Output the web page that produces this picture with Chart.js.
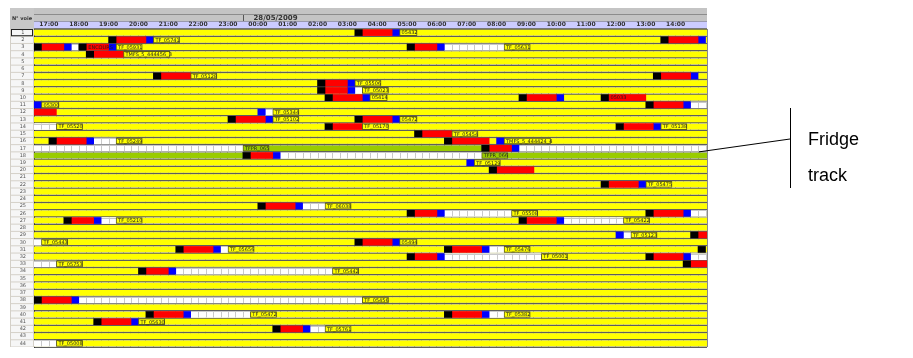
<!DOCTYPE html>
<html>
<head>
<meta charset="utf-8">
<script src="https://cdn.jsdelivr.net/npm/chart.js@4/dist/chart.umd.min.js"></script>
<style>
  html, body { margin: 0; padding: 0; background: #fff; }
  #wrap { position: relative; width: 913px; height: 358px; }
</style>
</head>
<body>
<div id="wrap"><canvas id="gantt" width="913" height="358"></canvas></div>
<script>
// track numbers (N° voie)
const rows = ['1','2','3','4','5','6','7','8','9','10','11','12','13','14','15','16','17','18','19','20','21','22',
  '23','24','25','26','27','28','29','30','31','32','33','34','35','36','37','38','39','40','41','42','43','44'];
const hourLabels = ['17:00','18:00','19:00','20:00','21:00','22:00','23:00','00:00','01:00','02:00','03:00',
  '04:00','05:00','06:00','07:00','08:00','09:00','10:00','11:00','12:00','13:00','14:00'];
const dateLabel = '28/05/2009';
const fridgeRows = ['17', '18'];

// [track, from, to, text]
const blackSegs = [
  [1,'03:45','04:00'], [2,'19:30','19:45'], [2,'14:00','14:15'],
  [3,'17:00','17:15'], [3,'18:30','18:45'], [3,'05:30','05:45'],
  [4,'18:45','19:00'], [7,'21:00','21:15'], [7,'13:45','14:00'],
  [8,'02:30','02:45'], [9,'02:30','02:45'],
  [10,'02:45','03:00'], [10,'09:15','09:30'], [10,'12:00','12:15'],
  [11,'13:30','13:45'], [13,'23:30','23:45'], [13,'03:45','04:00'],
  [14,'02:45','03:00'], [14,'12:30','12:45'], [15,'05:45','06:00'],
  [16,'17:30','17:45'], [16,'06:45','07:00'], [17,'08:00','08:15'], [18,'00:00','00:15'],
  [20,'08:15','08:30'], [22,'12:00','12:15'], [25,'00:30','00:45'],
  [26,'05:30','05:45'], [26,'13:30','13:45'], [27,'18:00','18:15'], [27,'09:15','09:30'],
  [29,'15:00','15:15'], [30,'03:45','04:00'],
  [31,'21:45','22:00'], [31,'06:45','07:00'], [31,'15:15','15:30'],
  [32,'05:30','05:45'], [32,'13:30','13:45'], [33,'14:45','15:00'],
  [34,'20:30','20:45'], [38,'17:00','17:15'], [40,'20:45','21:00'], [40,'06:45','07:00'],
  [41,'19:00','19:15'], [42,'01:00','01:15']
];
const redSegs = [
  [1,'04:00','05:00'], [2,'19:45','20:45'], [2,'14:15','15:15'],
  [3,'17:15','18:00'], [3,'18:45','19:30','ENCOURS'], [3,'05:45','06:30'],
  [4,'19:00','20:00'], [7,'21:15','22:15'], [7,'14:00','15:00'],
  [8,'02:45','03:30'], [9,'02:45','03:30'],
  [10,'03:00','04:00'], [10,'09:30','10:30'], [10,'12:15','13:30','05033'],
  [11,'13:45','14:45'], [12,'17:00','17:45'], [13,'23:45','00:45'], [13,'04:00','05:00'],
  [14,'03:00','04:00'], [14,'12:45','13:45'], [15,'06:00','07:00'],
  [16,'17:45','18:45'], [16,'07:00','08:15'], [17,'08:15','09:00'], [18,'00:15','01:00'],
  [20,'08:30','09:45'], [22,'12:15','13:15'], [25,'00:45','01:45'],
  [26,'05:45','06:30'], [26,'13:45','14:45'], [27,'18:15','19:00'], [27,'09:30','10:30'],
  [29,'15:15','end'], [30,'04:00','05:00'], [31,'22:00','23:00'], [31,'07:00','08:00'],
  [32,'05:45','06:30'], [32,'13:45','14:45'], [33,'15:00','end'],
  [34,'20:45','21:30'], [38,'17:15','18:15'], [40,'21:00','22:00'], [40,'07:00','08:00'],
  [41,'19:15','20:15'], [42,'01:15','02:00']
];
const blueSegs = [
  [1,'05:00','05:15'], [2,'20:45','21:00'], [2,'15:15','15:30'],
  [3,'18:00','18:15'], [3,'19:30','19:45'], [3,'06:30','06:45'],
  [7,'15:00','15:15'], [8,'03:30','03:45'], [9,'03:30','03:45'],
  [10,'04:00','04:15'], [10,'10:30','10:45'], [11,'17:00','17:15'], [11,'14:45','15:00'],
  [12,'00:30','00:45'], [13,'00:45','01:00'], [13,'05:00','05:15'], [14,'13:45','14:00'],
  [16,'18:45','19:00'], [16,'08:30','08:45'], [17,'09:00','09:15'], [18,'01:00','01:15'],
  [19,'07:30','07:45'], [22,'13:15','13:30'], [25,'01:45','02:00'],
  [26,'06:30','06:45'], [26,'14:45','15:00'], [27,'19:00','19:15'], [27,'10:30','10:45'],
  [29,'12:30','12:45'], [30,'05:00','05:15'], [31,'23:00','23:15'], [31,'08:00','08:15'],
  [32,'06:30','06:45'], [32,'14:45','15:00'], [34,'21:30','21:45'], [38,'18:15','18:30'],
  [40,'22:00','22:15'], [40,'08:00','08:15'], [41,'20:15','20:30'], [42,'02:00','02:15']
];
// free (white) slots
const gapSegs = [
  [3,'18:15','18:30'], [3,'06:45','08:45'], [9,'03:45','04:00'], [11,'15:00','end'],
  [12,'00:45','01:00'], [14,'17:00','17:45'], [16,'19:00','19:45'],
  [17,'17:00','00:00'], [17,'09:15','end'], [18,'01:15','08:00'],
  [25,'02:00','02:45'], [26,'06:45','09:00'], [26,'15:00','end'],
  [27,'19:15','19:45'], [27,'10:45','12:45'], [29,'12:45','13:00'], [30,'17:00','17:15'],
  [31,'23:15','23:30'], [31,'08:15','08:45'], [32,'06:45','10:00'], [32,'15:00','end'],
  [33,'17:00','17:45'], [34,'21:45','03:00'], [38,'18:30','04:00'],
  [40,'22:15','00:15'], [40,'08:15','08:45'], [42,'02:15','02:45'], [44,'17:00','17:45']
];
// [track, at, train]
const tags = [
  [1,'05:15','05432'], [2,'21:00','TF_05741'], [3,'19:45','TF_05931'], [3,'08:45','TF_05631'],
  [4,'20:00','TMFS_5_444456_3'], [7,'22:15','TF_05128'], [8,'03:45','TF_05506'],
  [9,'04:00','TF_05023'], [10,'04:15','05414'], [11,'17:15','05300'], [12,'01:00','TF_05344'],
  [13,'01:00','TF_05102'], [13,'05:15','05472'], [14,'17:45','TF_05520'], [14,'04:00','TF_05170'],
  [14,'14:00','TF_05138'], [15,'07:00','TF_05454'], [16,'19:45','TF_05249'],
  [16,'08:45','TMFS_5_444424_4'], [17,'00:00','TFPR_065'], [18,'08:00','TFPR_066'],
  [19,'07:45','TF_05129'], [22,'13:30','TF_05475'], [25,'02:45','TF_06038'],
  [26,'09:00','TF_05508'], [27,'19:45','TF_05210'], [27,'12:45','TF_05422'],
  [29,'13:00','TF_05123'], [30,'17:15','TF_05443'], [30,'05:15','05494'],
  [31,'23:30','TF_05656'], [31,'08:45','TF_05476'], [32,'10:00','TF_05001'],
  [33,'17:45','TF_05753'], [34,'03:00','TF_05442'], [38,'04:00','TF_05456'],
  [40,'00:15','TF_05472'], [40,'08:45','TF_05382'], [41,'20:30','TF_05630'],
  [42,'02:45','TF_05761'], [44,'17:45','TF_05008']
];

const START = 17, END = 39.55;   // 17:00 -> ~15:33 next day
const PX_H = 29.85;
const YELLOW = '#ffff00', GREEN = '#99cc00';

function t(s) {
  if (s === 'end') return 40;
  const [h, m] = s.split(':').map(Number);
  return (h < START ? h + 24 : h) + m / 60;
}
const toBars = list => list.map(([r, a, b, txt]) => ({ y: String(r), x: [t(a), t(b)], txt }));
const tagBars = tags.map(([r, a, txt]) => ({ y: String(r), x: [t(a), t(a) + (txt.length * 2.9 + 3) / PX_H], txt }));
const isFridge = ctx => fridgeRows.includes(ctx.raw && ctx.raw.y);

const background = {
  id: 'background',
  beforeDraw(chart) {
    const { ctx, chartArea: a, scales: { x, y } } = chart;
    const rh = y.getPixelForValue(1) - y.getPixelForValue(0);
    ctx.save();
    ctx.fillStyle = '#fff';
    ctx.fillRect(0, 0, chart.width, chart.height);
    // track number column
    ctx.fillStyle = '#d4d0c8';
    ctx.fillRect(10, 8, 24, a.bottom - 8);
    rows.forEach((r, i) => {
      const cy = y.getPixelForValue(i);
      ctx.fillStyle = '#f6f6f6';
      ctx.fillRect(11, cy - rh / 2 + 0.5, 22, rh - 1);
    });
    ctx.strokeStyle = '#222';
    ctx.strokeRect(11.5, y.getPixelForValue(0) - rh / 2 + 0.5, 21, rh - 1);
    ctx.fillStyle = '#c8c8c8';
    ctx.fillRect(10, 8, 24, a.top - 8);
    ctx.fillStyle = '#333';
    ctx.font = 'bold 5px "DejaVu Sans"';
    ctx.textAlign = 'center';
    ctx.textBaseline = 'middle';
    ctx.fillText('N° voie', 22, 19);
    // header bands
    ctx.fillStyle = '#c4c4c4';
    ctx.fillRect(a.left, 8, a.right - a.left, 13);
    ctx.fillStyle = '#8c8c8c';
    ctx.fillRect(a.left, 14, a.right - a.left, 1);
    ctx.fillStyle = '#ccccff';
    ctx.fillRect(a.left, 21, a.right - a.left, 7);
    ctx.fillStyle = '#777';
    ctx.fillRect(a.left, 21, a.right - a.left, 0.6);
    ctx.fillRect(a.left, 28, a.right - a.left, 1);
    const x0 = Math.round(x.getPixelForValue(24)) + 0.5;
    ctx.strokeStyle = '#555';
    ctx.beginPath(); ctx.moveTo(x0, 15); ctx.lineTo(x0, 21); ctx.stroke();
    ctx.fillStyle = '#333';
    ctx.font = 'bold 7px "DejaVu Sans"';
    ctx.textAlign = 'left';
    ctx.fillText(dateLabel, x0 + 10, 18);
    // plot background
    ctx.fillStyle = '#b4b4b4';
    ctx.fillRect(a.left, a.top, a.right - a.left, a.bottom - a.top);
    ctx.restore();
  }
};

const cellsAndText = {
  id: 'cellsAndText',
  afterDatasetDraw(chart, args) {
    const ds = chart.data.datasets[args.index];
    const { ctx, chartArea: a, scales: { x } } = chart;
    ctx.save();
    ctx.beginPath();
    ctx.rect(a.left, a.top, a.right - a.left, a.bottom - a.top);
    ctx.clip();
    if (ds.label === 'free') {
      ctx.strokeStyle = '#c9c9c9';
      ctx.lineWidth = 1;
      args.meta.data.forEach(el => {
        const l = Math.min(el.x, el.base), r = Math.max(el.x, el.base);
        const top = el.y - el.height / 2, bot = el.y + el.height / 2;
        ctx.beginPath();
        for (let v = START; v <= END; v += 0.25) {
          const px = Math.round(x.getPixelForValue(v)) + 0.5;
          if (px > l + 1 && px < r) { ctx.moveTo(px, top); ctx.lineTo(px, bot); }
        }
        ctx.moveTo(l, Math.round(top) + 0.5); ctx.lineTo(r, Math.round(top) + 0.5);
        ctx.stroke();
      });
    }
    if (ds.label === 'train' || ds.label === 'red') {
      ctx.fillStyle = '#1e1e1e';
      ctx.font = '5px "DejaVu Sans"';
      ctx.textBaseline = 'middle';
      ctx.textAlign = 'left';
      args.meta.data.forEach((el, i) => {
        const txt = ds.data[i].txt;
        if (txt) ctx.fillText(txt, Math.min(el.x, el.base) + 2, el.y + 0.5);
      });
    }
    ctx.restore();
  }
};

const callout = {
  id: 'callout',
  afterDraw(chart) {
    const { ctx, scales: { y } } = chart;
    const yy = y.getPixelForValue(16.5);
    ctx.save();
    ctx.strokeStyle = '#000';
    ctx.lineWidth = 1;
    ctx.beginPath();
    ctx.moveTo(699, yy); ctx.lineTo(790, 139);
    ctx.moveTo(790.5, 108); ctx.lineTo(790.5, 188);
    ctx.stroke();
    ctx.fillStyle = '#000';
    ctx.font = '18px "Liberation Sans"';
    ctx.textBaseline = 'alphabetic';
    ctx.fillText('Fridge', 808, 145);
    ctx.fillText('track', 808, 181);
    ctx.restore();
  }
};

const common = { grouped: false, borderWidth: 0, borderSkipped: false, xAxisID: 'x', yAxisID: 'y' };

new Chart(document.getElementById('gantt'), {
  type: 'bar',
  data: {
    labels: rows,
    datasets: [
      { ...common, label: 'track', order: 6, barThickness: 5,
        data: rows.map(r => ({ y: r, x: [START, 40] })),
        backgroundColor: ctx => isFridge(ctx) ? GREEN : YELLOW },
      { ...common, label: 'free', order: 5, barThickness: 6, data: toBars(gapSegs), backgroundColor: '#ffffff' },
      { ...common, label: 'black', order: 4, barThickness: 6, data: toBars(blackSegs), backgroundColor: '#000000' },
      { ...common, label: 'red', order: 4, barThickness: 6, data: toBars(redSegs), backgroundColor: '#ff0000' },
      { ...common, label: 'blue', order: 4, barThickness: 6, data: toBars(blueSegs), backgroundColor: '#0000ff' },
      { ...common, label: 'train', order: 3, barThickness: 6, data: tagBars,
        backgroundColor: ctx => isFridge(ctx) ? GREEN : YELLOW,
        borderWidth: 1, borderColor: '#5c5c1c' }
    ]
  },
  options: {
    indexAxis: 'y',
    responsive: false,
    animation: false,
    events: [],
    layout: { padding: { left: 10, top: 8, right: 206, bottom: 1 } },
    plugins: { legend: { display: false }, tooltip: { enabled: false } },
    scales: {
      x: {
        type: 'linear', position: 'top', min: START, max: END,
        afterBuildTicks: s => { s.ticks = hourLabels.map((l, i) => ({ value: START + i + 0.5 })); },
        afterFit: s => { s.height = 21; },
        ticks: {
          autoSkip: false, maxRotation: 0, padding: 1, color: '#333',
          font: { family: 'DejaVu Sans', size: 6, weight: 'bold' },
          callback: (v, i) => hourLabels[i]
        },
        grid: { display: false, drawTicks: false },
        border: { display: false }
      },
      x2: {
        type: 'linear', position: 'top', min: START, max: END,
        afterFit: s => { s.height = 0; },
        ticks: { display: false, stepSize: 0.25, maxTicksLimit: 200 },
        grid: { color: '#8a8a8a', drawTicks: false },
        border: { display: false }
      },
      y: {
        type: 'category', labels: rows, offset: true,
        afterFit: s => { s.width = 24; },
        ticks: {
          autoSkip: false, crossAlign: 'center', padding: 8, color: '#555',
          font: { family: 'DejaVu Sans', size: 5 }
        },
        grid: { offset: true, color: '#5e5e5e', drawTicks: false },
        border: { color: '#333' }
      }
    }
  },
  plugins: [background, cellsAndText, callout]
});
</script>
</body>
</html>
